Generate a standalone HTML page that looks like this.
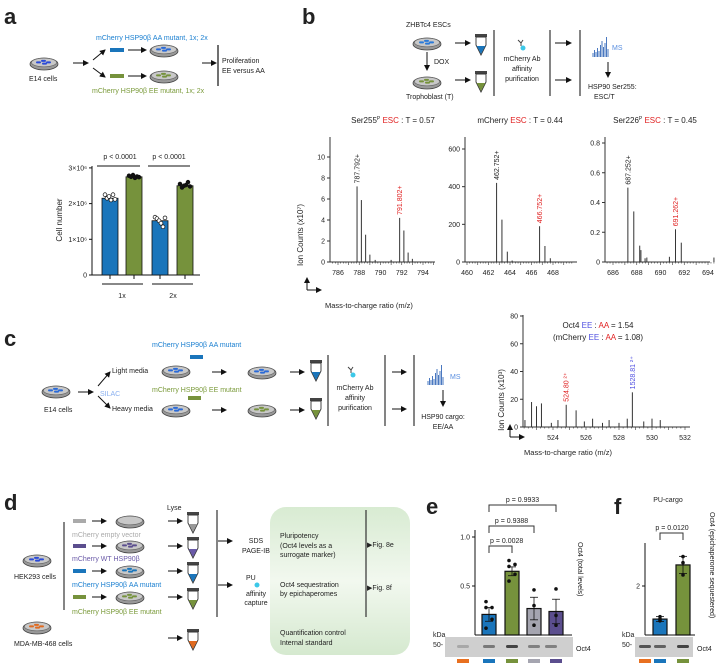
<!DOCTYPE html>
<html><head><meta charset="utf-8"><style>
body{margin:0;background:#fff}
svg{display:block;font-family:"Liberation Sans",sans-serif}
text{fill:#222}
</style></head><body>
<svg id="fig" width="720" height="666" viewBox="0 0 720 666" xmlns="http://www.w3.org/2000/svg">
<defs>
<linearGradient id="gbox" x1="0" y1="0" x2="0" y2="1"><stop offset="0" stop-color="#d8ebd2"/><stop offset="0.5" stop-color="#f2f8ef"/><stop offset="1" stop-color="#d5e9cf"/></linearGradient>
<marker id="ar" markerWidth="6" markerHeight="6" refX="5" refY="3" orient="auto"><path d="M0,0 L6,3 L0,6 z" fill="#111"/></marker>
</defs>
<g font-weight="bold" font-size="22">
<text x="4" y="24">a</text>
<text x="302" y="24">b</text>
<text x="4" y="346">c</text>
<text x="4" y="510">d</text>
<text x="426" y="514">e</text>
<text x="614" y="514">f</text>
</g>
<!-- panel a diagram -->
<g id="diagA" font-size="7">
<text x="96" y="40" fill="#1a7fd0" style="fill:#1a7fd0">mCherry HSP90β AA mutant, 1x; 2x</text>
<text x="92" y="93" style="fill:#7a9a3a">mCherry HSP90β EE mutant, 1x; 2x</text>
<text x="29" y="81">E14 cells</text>
<rect x="110" y="48" width="14" height="4" fill="#1a75bb"/>
<rect x="110" y="74" width="14" height="4" fill="#76923c"/>
<g stroke="#111" stroke-width="1" marker-end="url(#ar)">
<line x1="73" y1="63" x2="88" y2="63"/><line x1="93" y1="60" x2="105" y2="50"/><line x1="93" y1="68" x2="105" y2="77"/>
<line x1="128" y1="50" x2="146" y2="50"/><line x1="128" y1="76" x2="146" y2="76"/><line x1="202" y1="63" x2="216" y2="63"/>
</g>
<line x1="218" y1="45" x2="218" y2="86" stroke="#111" stroke-width="1.2"/>
<text x="222" y="63">Proliferation</text><text x="222" y="73">EE versus AA</text>
</g>
<!-- panel b diagram -->
<g font-size="7">
<text x="406" y="27">ZHBTc4 ESCs</text><text x="406" y="99">Trophoblast (T)</text>
<text x="434" y="64">DOX</text>
<g stroke="#111" marker-end="url(#ar)"><line x1="427" y1="52" x2="427" y2="70"/><line x1="455" y1="43" x2="470" y2="43"/><line x1="455" y1="80" x2="470" y2="80"/>
<line x1="555" y1="43" x2="571" y2="43"/><line x1="555" y1="80" x2="571" y2="80"/><line x1="608" y1="62" x2="608" y2="77"/></g>
<g stroke="#333" stroke-width="1.2"><line x1="494" y1="30" x2="494" y2="96"/><line x1="550" y1="30" x2="550" y2="96"/><line x1="580" y1="30" x2="580" y2="96"/></g>
<text x="522" y="61" text-anchor="middle">mCherry Ab</text><text x="522" y="71" text-anchor="middle">affinity</text><text x="522" y="81" text-anchor="middle">purification</text>
<text x="612" y="50" style="fill:#5a8fe0">MS</text>
<text x="588" y="89">HSP90 Ser255:</text><text x="594" y="99">ESC/T</text>
</g>
<!-- panel c diagram -->
<g font-size="7">
<text x="44" y="412">E14 cells</text>
<text x="100" y="396" style="fill:#8ab0f0">SILAC</text>
<text x="112" y="373">Light media</text><text x="112" y="411">Heavy media</text>
<text x="152" y="347" style="fill:#1a7fd0">mCherry HSP90β AA mutant</text>
<text x="152" y="392" style="fill:#7a9a3a">mCherry HSP90β EE mutant</text>
<rect x="190" y="355" width="13" height="4" fill="#1a75bb"/><rect x="188" y="396" width="13" height="4" fill="#76923c"/>
<g stroke="#111" marker-end="url(#ar)"><line x1="78" y1="392" x2="93" y2="392"/><line x1="98" y1="386" x2="110" y2="372"/><line x1="98" y1="396" x2="110" y2="408"/>
<line x1="212" y1="372" x2="226" y2="372"/><line x1="212" y1="410" x2="226" y2="410"/><line x1="290" y1="372" x2="304" y2="372"/><line x1="290" y1="410" x2="304" y2="410"/>
<line x1="392" y1="372" x2="406" y2="372"/><line x1="392" y1="409" x2="406" y2="409"/><line x1="443" y1="390" x2="443" y2="406"/></g>
<g stroke="#333" stroke-width="1.2"><line x1="328" y1="355" x2="328" y2="426"/><line x1="385" y1="355" x2="385" y2="426"/><line x1="414" y1="355" x2="414" y2="426"/></g>
<text x="355" y="390" text-anchor="middle">mCherry Ab</text><text x="355" y="400" text-anchor="middle">affinity</text><text x="355" y="410" text-anchor="middle">purification</text>
<text x="450" y="379" style="fill:#5a8fe0">MS</text>
<text x="443" y="419" text-anchor="middle">HSP90 cargo:</text><text x="443" y="429" text-anchor="middle">EE/AA</text>
</g>
<!-- panel d diagram -->
<g font-size="7">
<rect x="270" y="507" width="140" height="148" rx="16" fill="url(#gbox)"/>
<text x="14" y="579">HEK293 cells</text><text x="14" y="646">MDA-MB-468 cells</text>
<line x1="64" y1="522" x2="64" y2="610" stroke="#333" stroke-width="1.2"/>
<rect x="73" y="519" width="13" height="4" fill="#aaa"/><rect x="73" y="544" width="13" height="4" fill="#5b4e8e"/>
<rect x="73" y="569" width="13" height="4" fill="#1a75bb"/><rect x="73" y="595" width="13" height="4" fill="#76923c"/>
<text x="72" y="537" style="fill:#aaa">mCherry empty vector</text>
<text x="72" y="561" style="fill:#6a5aa8">mCherry WT HSP90β</text>
<text x="72" y="587" style="fill:#1a7fd0">mCherry HSP90β AA mutant</text>
<text x="72" y="614" style="fill:#7a9a3a">mCherry HSP90β EE mutant</text>
<text x="167" y="510">Lyse</text>
<g stroke="#111" marker-end="url(#ar)">
<line x1="92" y1="521" x2="106" y2="521"/><line x1="92" y1="546" x2="106" y2="546"/><line x1="92" y1="571" x2="106" y2="571"/><line x1="92" y1="597" x2="106" y2="597"/>
<line x1="168" y1="521" x2="182" y2="521"/><line x1="168" y1="546" x2="182" y2="546"/><line x1="168" y1="571" x2="182" y2="571"/><line x1="168" y1="597" x2="182" y2="597"/><line x1="168" y1="638" x2="182" y2="638"/>
<line x1="218" y1="541" x2="232" y2="541"/><line x1="218" y1="585" x2="232" y2="585"/></g>
<line x1="217" y1="510" x2="217" y2="617" stroke="#333" stroke-width="1.2"/>
<line x1="366" y1="510" x2="366" y2="617" stroke="#333" stroke-width="1.2"/>
<text x="256" y="543" text-anchor="middle">SDS</text><text x="256" y="553" text-anchor="middle">PAGE-IB</text>
<text x="246" y="580">PU</text><circle cx="257" cy="585" r="2.5" fill="#3cc8e8"/>
<text x="256" y="596" text-anchor="middle">affinity</text><text x="256" y="605" text-anchor="middle">capture</text>
<text x="280" y="538">Pluripotency</text><text x="280" y="548">(Oct4 levels as a</text><text x="280" y="557">surrogate marker)</text>
<text x="280" y="587">Oct4 sequestration</text><text x="280" y="596">by epichaperomes</text>
<text x="280" y="635">Quantification control</text><text x="280" y="645">Internal standard</text>
<text x="367" y="547">▶Fig. 8e</text><text x="367" y="590">▶Fig. 8f</text>
</g>
<g id="dyn"></g>
</svg>
<script>
// ---------- data ----------
const aCategories = ["1x AA","1x EE","2x AA","2x EE"];
const aValues = [2.15, 2.75, 1.52, 2.5]; // x10^6
const aPoints = [[2.25,2.15,2.2,2.1,2.25,2.12],[2.78,2.75,2.8,2.72,2.76,2.74],[1.62,1.58,1.52,1.45,1.35,1.6],[2.55,2.45,2.5,2.52,2.6,2.48]];
const aTicks = ["0","1×10⁶","2×10⁶","3×10⁶"];
const s1mz = [787.792,788.2,788.6,789.0,789.5,791.0,791.802,792.2,792.6,793.0];
const s1int = [7.2,5.9,2.6,0.7,0.2,0.2,4.2,3.0,0.9,0.3];
const s2mz = [462.752,463.25,463.75,464.2,466.752,467.25,467.75];
const s2int = [420,225,55,8,190,85,20];
const s3mz = [687.252,687.75,688.25,688.35,688.7,688.85,690.75,691.262,691.75,694.5];
const s3int = [0.5,0.34,0.11,0.08,0.025,0.03,0.035,0.22,0.13,0.03];
const scmz = [522.3,522.7,523.0,523.3,523.9,524.3,524.8,525.4,525.9,526.4,527.0,527.4,528.0,528.5,528.81,529.5,530.0,530.5];
const scint = [5,18,15,17,3,5,16,12,4,6,3,5,3,6,25,4,6,5];
const eCategories = ["empty","WT","AA","EE"];
const eValues = [0.21,0.65,0.27,0.24];
const eErr = [0.07,0.045,0.115,0.125];
const ePoints = [[0.34,0.28,0.28,0.16,0.07],[0.76,0.72,0.7,0.62,0.55],[0.46,0.3,0.1],[0.47,0.2,0.1]];
const fCategories = ["AA","EE"];
const fValues = [0.65,2.86];
const fErr = [0.1,0.35];
const fPoints = [[0.75,0.65,0.58],[3.2,2.95,2.45]];

const NS="http://www.w3.org/2000/svg";
const root=document.getElementById('dyn');
function mk(tag,attrs,parent){const e=document.createElementNS(NS,tag);for(const k in attrs)e.setAttribute(k,attrs[k]);(parent||root).appendChild(e);return e;}
function txt(x,y,s,size,extra){const t=mk('text',Object.assign({x:x,y:y,'font-size':size},extra||{}));t.textContent=s;return t;}

// dishes
function dish(x,y,col,name){
  const g=mk('g',{});
  
  
  mk('ellipse',{cx:x,cy:y+1,rx:14,ry:6,fill:'#999',stroke:'#444','stroke-width':0.8},g);
  mk('ellipse',{cx:x,cy:y-0.5,rx:12.5,ry:4.3,fill:'#c8c8c8',stroke:'#666','stroke-width':0.6},g);
  if(col){[[-6,0],[-1,-1.5],[4,0],[0,1.2]].forEach(p=>mk('rect',{x:x+p[0]-2,y:y+p[1]-1.6,width:5,height:2,rx:1,fill:col},g));}
}
function tube(x,y,col,name){
  const g=mk('g',{});
  
  
  mk('rect',{x:x-6,y:y,width:12,height:3,fill:'#444'},g);
  mk('path',{d:`M${x-5},${y+3} L${x+5},${y+3} L${x+5},${y+11} L${x},${y+21} L${x-5},${y+11} Z`,fill:'#fff',stroke:'#333','stroke-width':0.9},g);
  mk('path',{d:`M${x-4.3},${y+12} L${x+4.3},${y+12} L${x},${y+20} Z`,fill:col},g);
}
dish(44,63,'#2a4ad8','dish-e14-a');dish(164,50,'#2a6ad8','dish-aa-a');dish(164,76,'#76923c','dish-ee-a');
dish(427,43,'#2a7ad8','dish-esc-b');dish(427,82,'#76923c','dish-troph-b');
tube(481,34,'#1a75bb','tube-esc-b');tube(481,71,'#76923c','tube-troph-b');
dish(56,391,'#2a6ad8','dish-e14-c');dish(176,371,'#2a6ad8','dish-light-c');dish(176,410,'#2a6ad8','dish-heavy-c');
dish(262,372,'#2a6ad8','dish-light2-c');dish(262,410,'#76923c','dish-heavy2-c');
tube(316,360,'#1a75bb','tube-light-c');tube(316,398,'#76923c','tube-heavy-c');
dish(37,560,'#2a4ad8','dish-hek293');dish(37,627,'#e06a20','dish-mda');
dish(130,521,null,'dish-empty');dish(130,546,'#5b4e8e','dish-wt');dish(130,571,'#1a75bb','dish-aa-d');dish(130,597,'#76923c','dish-ee-d');
tube(193,512,'#999','tube-empty');tube(193,537,'#6a5aa8','tube-wt');tube(193,562,'#1a75bb','tube-aa-d');tube(193,588,'#76923c','tube-ee-d');tube(193,629,'#e06a20','tube-mda');
// antibody + MS icons
[[522,45],[352,372]].forEach((p,i)=>{const g=mk('g',{stroke:'#444','stroke-width':1});


mk('path',{d:`M${p[0]-4},${p[1]-5} L${p[0]-1},${p[1]-2} L${p[0]-1},${p[1]+1} M${p[0]-1},${p[1]-2} L${p[0]+1},${p[1]-5}`,fill:'none'},g);
mk('circle',{cx:p[0]+1,cy:p[1]+3,r:2.5,fill:'#3cc8e8',stroke:'none'},g);});
const msH=[4,7,5,9,6,12,16,10,14,20,8];
[[593,57],[428,385]].forEach(p=>{const g=mk('g',{stroke:'#4a78c0','stroke-width':1});


msH.forEach((h,i)=>mk('line',{x1:p[0]+i*1.5,y1:p[1],x2:p[0]+i*1.5,y2:p[1]-h},g));});

// ---------- panel a bar chart ----------
const aY=v=>275-v*35.7, aX=[110,134,160,185], aCol=['#1a75bb','#76923c','#1a75bb','#76923c'];
mk('line',{x1:92,y1:166,x2:92,y2:275,stroke:'#111'});
mk('line',{x1:92,y1:275,x2:200,y2:275,stroke:'#111'});
aTicks.forEach((t,i)=>{mk('line',{x1:89,y1:aY(i),x2:92,y2:aY(i),stroke:'#111'});const l=txt(87,aY(i)+2.5,t,7,{'text-anchor':'end'});

});
aValues.forEach((v,i)=>{const b=mk('rect',{x:aX[i]-8,y:aY(v),width:16,height:aY(0)-aY(v),fill:aCol[i],stroke:'#111','stroke-width':0.8});


mk('line',{x1:aX[i],y1:275,x2:aX[i],y2:279,stroke:'#111'});
aPoints[i].forEach((p,j)=>mk('circle',{cx:aX[i]-5+j*2,cy:aY(p),r:1.9,fill:i%2?'#111':'#fff',stroke:'#111','stroke-width':0.7}));});
mk('line',{x1:102,y1:284,x2:143,y2:284,stroke:'#111'});mk('line',{x1:152,y1:284,x2:193,y2:284,stroke:'#111'});
txt(122,298,'1x',7,{'text-anchor':'middle'});txt(173,298,'2x',7,{'text-anchor':'middle'});
mk('line',{x1:97,y1:166,x2:140,y2:166,stroke:'#111'});mk('line',{x1:148,y1:166,x2:190,y2:166,stroke:'#111'});
txt(120,159,'p < 0.0001',7,{'text-anchor':'middle'});txt(169,159,'p < 0.0001',7,{'text-anchor':'middle'});
const al=txt(0,0,'Cell number',8,{'text-anchor':'middle',transform:'translate(62,220) rotate(-90)'});



// ---------- spectra ----------
function spectrum(o){
  const X=m=>o.x0+(m-o.mzA)*(o.xB-o.x0)/(o.mzB-o.mzA), Y=v=>o.y0-v*(o.y0-o.yT)/o.vT;
  mk('line',{x1:o.ax,y1:o.top,x2:o.ax,y2:o.y0,stroke:'#333'});
  mk('line',{x1:o.ax,y1:o.y0,x2:o.xe,y2:o.y0,stroke:'#333'});
  o.yt.forEach(v=>{mk('line',{x1:o.ax-3,y1:Y(v),x2:o.ax,y2:Y(v),stroke:'#333'});txt(o.ax-5,Y(v)+2.5,String(v),7,{'text-anchor':'end'});});
  for(let m=Math.ceil(o.mzA0*4)/4;m<=o.mzE;m+=0.25){const maj=Math.abs(m-Math.round(m))<0.01;mk('line',{x1:X(m),y1:o.y0,x2:X(m),y2:o.y0+(maj?3:1.5),stroke:'#333','stroke-width':0.6});}
  o.xt.forEach(m=>txt(X(m),o.y0+13,String(m),7,{'text-anchor':'middle'}));
  o.mz.forEach((m,i)=>{const p=mk('line',{x1:X(m),y1:o.y0,x2:X(m),y2:Y(o.int[i]),stroke:'#333','stroke-width':1});
  
  });
  o.labels.forEach(l=>{const i=l[0];const t=txt(0,0,l[1],7,{transform:`translate(${X(o.mz[i])+2.5},${Y(o.int[i])-3}) rotate(-90)`,style:'fill:'+l[2]});
  
  });
}
spectrum({name:'ser255',x0:338,xB:423,mzA:786,mzB:794,mzA0:785.3,mzE:795,ax:330,xe:435,top:137,y0:262,yT:157,vT:10,yt:[0,2,4,6,8,10],xt:[786,788,790,792,794],mz:s1mz,int:s1int,labels:[[0,'787.792+','#222'],[6,'791.802+','#e02020']]});
spectrum({name:'mcherry',x0:467,xB:553,mzA:460,mzB:468,mzA0:459.8,mzE:469.8,ax:465,xe:577,top:137,y0:262,yT:149,vT:600,yt:[0,200,400,600],xt:[460,462,464,466,468],mz:s2mz,int:s2int,labels:[[0,'462.752+','#222'],[4,'466.752+','#e02020']]});
spectrum({name:'ser226',x0:613,xB:708,mzA:686,mzB:694,mzA0:685.4,mzE:694.6,ax:605,xe:710,top:137,y0:262,yT:143,vT:0.8,yt:[0,0.2,0.4,0.6,0.8],xt:[686,688,690,692,694],mz:s3mz,int:s3int,labels:[[0,'687.252+','#222'],[7,'691.262+','#e02020']]});
spectrum({name:'oct4',x0:553,xB:685,mzA:524,mzB:532,mzA0:522.2,mzE:532.2,ax:523,xe:690,top:315,y0:427,yT:316,vT:80,yt:[0,20,40,60,80],xt:[524,526,528,530,532],mz:scmz,int:scint,labels:[[6,'524.80 ²⁺','#e02020'],[14,'1528.81 ²⁺','#5050e0']]});
function title(x,y,parts){const t=mk('text',{x:x,y:y,'font-size':8,'text-anchor':'middle'});parts.forEach(p=>{const s=mk('tspan',p[2]?{style:'fill:'+p[1],'baseline-shift':'super','font-size':5}:{style:'fill:'+p[1]},t);s.textContent=p[0];});

}
title(393,123,[['Ser255','#222'],['P','#222',1],[' ESC','#e02020'],[' : T  = 0.57','#222']]);
title(520,123,[['mCherry ','#222'],['ESC','#e02020'],[' : T  = 0.44','#222']]);
title(655,123,[['Ser226','#222'],['P','#222',1],[' ESC','#e02020'],[' : T  = 0.45','#222']]);
title(598,328,[['Oct4 ','#222'],['EE','#5050e0'],[' : ','#222'],['AA','#e02020'],[' = 1.54','#222']]);
title(598,340,[['(mCherry ','#222'],['EE','#5050e0'],[' : ','#222'],['AA','#e02020'],[' = 1.08)','#222']]);
txt(0,0,'Ion Counts (x10⁷)',8,{'text-anchor':'middle',transform:'translate(303,235) rotate(-90)'});
txt(0,0,'Ion Counts (x10³)',8,{'text-anchor':'middle',transform:'translate(504,400) rotate(-90)'});
txt(325,308,'Mass-to-charge ratio (m/z)',7.5,{});txt(568,455,'Mass-to-charge ratio (m/z)',7.5,{'text-anchor':'middle'});
[[307,290],[510,437]].forEach(p=>{mk('line',{x1:p[0],y1:p[1],x2:p[0],y2:p[1]-12,stroke:'#111','marker-end':'url(#ar)'});mk('line',{x1:p[0],y1:p[1],x2:p[0]+14,y2:p[1],stroke:'#111','marker-end':'url(#ar)'});});

// ---------- panel e ----------
const eY=v=>635-v*98, eX=[489,512,534,556], eCol=['#1a75bb','#76923c','#a5a5b0','#5b4e8e'];
mk('line',{x1:475,y1:530,x2:475,y2:635,stroke:'#111'});mk('line',{x1:475,y1:635,x2:572,y2:635,stroke:'#111'});
[[0.5,'0.5'],[1,'1.0']].forEach(t=>{mk('line',{x1:472,y1:eY(t[0]),x2:475,y2:eY(t[0]),stroke:'#111'});txt(470,eY(t[0])+2.5,t[1],7,{'text-anchor':'end'});});
function bars(cats,vals,errs,pts,X,Y,cols,pre){vals.forEach((v,i)=>{const b=mk('rect',{x:X[i]-7,y:Y(v),width:14,height:Y(0)-Y(v),fill:cols[i],stroke:'#111','stroke-width':1.2});


const g={stroke:'#111','stroke-width':0.8};mk('line',Object.assign({x1:X[i],y1:Y(v-errs[i]),x2:X[i],y2:Y(v+errs[i])},g));
mk('line',Object.assign({x1:X[i]-4,y1:Y(v+errs[i]),x2:X[i]+4,y2:Y(v+errs[i])},g));mk('line',Object.assign({x1:X[i]-4,y1:Y(v-errs[i]),x2:X[i]+4,y2:Y(v-errs[i])},g));
pts[i].forEach((p,j)=>mk('circle',{cx:X[i]+(j%2?3:-3)*(pts[i].length>3?1:0),cy:Y(p),r:1.8,fill:'#111'}));});}
bars(eCategories,eValues,eErr,ePoints,eX,eY,eCol,'e');
[[546,512,'p = 0.0028'],[526,534,'p = 0.9388'],[505,556,'p = 0.9933']].forEach(b=>{mk('path',{d:`M489,${b[0]+7} L489,${b[0]} L${b[1]},${b[0]} L${b[1]},${b[0]+7}`,fill:'none',stroke:'#333'});txt(b[0]==546?490:(489+b[1])/2,b[0]-3,b[2],7,{'text-anchor':b[0]==546?'start':'middle'});});
txt(0,0,'Oct4 (total levels)',7,{transform:'translate(578,542) rotate(90)'});
function blot(x1,x2,lanes,dark,name){const r=mk('rect',{x:x1,y:637,width:x2-x1,height:20,fill:'#cfcfcf'});


lanes.forEach((x,i)=>mk('rect',{x:x-6,y:645,width:12,height:3,rx:1.5,fill:'#333','fill-opacity':dark[i]}));}
blot(445,573,[463,489,512,534,551],[0.25,0.55,0.9,0.5,0.5],'e-western-blot');
txt(433,637,'kDa',7,{});txt(433,647,'50-',7,{});txt(576,651,'Oct4',7,{});
[[463,'#e87020'],[489,'#1a75bb'],[512,'#76923c'],[534,'#a5a5b0'],[556,'#5b4e8e']].forEach(m=>mk('rect',{x:m[0]-6,y:659,width:12,height:4,fill:m[1]}));
// ---------- panel f ----------
const fY=v=>635-v*24.5, fX=[660,683];
mk('line',{x1:645,y1:543,x2:645,y2:635,stroke:'#111'});mk('line',{x1:645,y1:635,x2:695,y2:635,stroke:'#111'});
mk('line',{x1:642,y1:fY(2),x2:645,y2:fY(2),stroke:'#111'});txt(640,fY(2)+2.5,'2',7,{'text-anchor':'end'});
bars(fCategories,fValues,fErr,fPoints,fX,fY,['#1a75bb','#76923c'],'f');
mk('path',{d:'M660,540 L660,533 L683,533 L683,540',fill:'none',stroke:'#333'});txt(672,530,'p = 0.0120',7,{'text-anchor':'middle'});
txt(668,502,'PU-cargo',7,{'text-anchor':'middle'});
txt(0,0,'Oct4 (epichaperome sequestered)',7,{transform:'translate(710,512) rotate(90)'});
blot(635,693,[645,660,683],[0.8,0.7,0.9],'f-western-blot');
txt(622,637,'kDa',7,{});txt(622,647,'50-',7,{});txt(697,651,'Oct4',7,{});
[[645,'#e87020'],[660,'#1a75bb'],[683,'#76923c']].forEach(m=>mk('rect',{x:m[0]-6,y:659,width:12,height:4,fill:m[1]}));
</script>
</body></html>
